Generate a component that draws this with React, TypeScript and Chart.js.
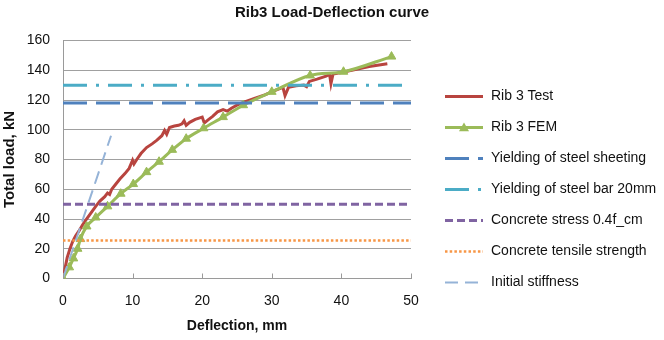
import React, { useEffect, useRef } from "react";
import { Chart, registerables } from "chart.js";

Chart.register(...registerables);

const chartTitle = "Rib3 Load-Deflection curve";
const xAxisTitle = "Deflection, mm";
const yAxisTitle = "Total load, kN";

const seriesNames = [
  "Rib 3 Test",
  "Rib 3 FEM",
  "Yielding of steel sheeting",
  "Yielding of steel bar 20mm",
  "Concrete stress 0.4f_cm",
  "Concrete tensile strength",
  "Initial stiffness",
];

const testDeflection = [
  0, 0.3, 0.6, 1.0, 1.4, 1.8, 2.3, 2.8, 3.3, 4.0,
  4.7, 5.3, 6.0, 6.4, 6.7, 7.0, 7.6, 8.2, 8.9, 9.5,
  10.0, 10.2, 10.6, 11.2, 12.0, 12.8, 13.5, 14.2, 14.6, 14.9,
  15.3, 16.0, 16.6, 17.1, 17.4, 17.7, 18.2, 19.0, 20.0, 20.3,
  20.8, 21.5, 22.2, 23.0, 23.6, 24.2, 25.0, 26.0, 27.5, 29.0,
  30.5, 31.6, 31.9, 32.4, 33.5, 34.6, 35.0, 35.4, 36.5, 37.8,
  38.3, 38.5, 38.8, 40.0, 42.0, 44.0, 46.6,
];
const testLoad = [
  0, 7, 14, 20, 25, 28.5, 32, 36, 39.5, 44,
  48.5, 52, 55, 57.5, 56.5, 60, 63.5, 67, 70.5, 74,
  79.5, 77, 80, 84, 88, 90.5, 93, 96, 99.5, 97,
  101.5, 102.5, 103, 104, 106, 103, 105, 107, 108.5, 104.5,
  106.5, 109, 112, 113.5, 112.5, 114.5, 116.5, 118.5, 121, 123.5,
  126.5, 128.5, 123, 128.5, 129.5, 130, 129, 132.5, 134, 136,
  137.3, 131, 137.5, 138.5, 140.5, 142.5, 144.3,
];

const femDeflection = [
  0, 0.9, 1.5, 2.1, 2.5, 3.4, 4.7, 6.4, 8.3, 10.1, 12.0,
  13.8, 15.7, 17.7, 20.2, 23.0, 25.9, 30.0, 35.5, 40.3, 47.2,
];
const femLoad = [
  0, 7.5, 13.5, 20, 26.5, 35, 41, 48.5, 57, 63.5, 71.5,
  78.5, 86.5, 94, 101, 108.5, 116.5, 125.5, 136.5, 139, 149.2,
];

const levelDeflection = [0, 50];
const yieldingSheetingLoad = 118;
const yieldingBarLoad = 130;
const concreteStressLoad = 50;
const concreteTensileLoad = 25.5;

const stiffnessDeflection = [0, 6.9];
const stiffnessLoad = [0, 96];

const xMin = 0;
const xMax = 50;
const xStep = 10;
const yMin = 0;
const yMax = 160;
const yStep = 20;

const FONT = "'Liberation Sans', Arial, sans-serif";

const toPoints = (xs: number[], ys: number[]) => xs.map((x, i) => ({ x, y: ys[i] }));
const level = (v: number) => levelDeflection.map((x) => ({ x, y: v }));

const styles = [
  { color: "#B8443F", width: 3, dash: [] as number[] },
  { color: "#9BBB59", width: 3, dash: [] as number[], marker: true },
  { color: "#4F81BD", width: 3, dash: [24, 9] },
  { color: "#4BACC6", width: 3, dash: [24, 9, 3, 9] },
  { color: "#8064A2", width: 3, dash: [8, 4] },
  { color: "#F79646", width: 2.5, dash: [2.5, 2.2] },
  { color: "#95B3D7", width: 2, dash: [13, 7] },
];

const legendPlugin = {
  id: "customLegend",
  afterDraw(chart: any) {
    const { ctx, chartArea } = chart;
    const x0 = chartArea.right + 34;
    const x1 = x0 + 38;
    const tx = x1 + 8;
    const y0 = chartArea.top + 56;
    const step = 31;
    ctx.save();
    chart.data.datasets.forEach((ds: any, i: number) => {
      const st = styles[i];
      const y = y0 + i * step;
      ctx.beginPath();
      ctx.setLineDash(st.dash);
      ctx.lineWidth = st.width;
      ctx.strokeStyle = st.color;
      ctx.lineCap = "butt";
      ctx.moveTo(x0, y);
      ctx.lineTo(x1, y);
      ctx.stroke();
      ctx.setLineDash([]);
      if (st.marker) {
        const cx = (x0 + x1) / 2;
        const r = 5;
        ctx.beginPath();
        ctx.moveTo(cx, y - r);
        ctx.lineTo(cx + r, y + r * 0.75);
        ctx.lineTo(cx - r, y + r * 0.75);
        ctx.closePath();
        ctx.fillStyle = st.color;
        ctx.fill();
      }
      ctx.fillStyle = "#111";
      ctx.font = `14px ${FONT}`;
      ctx.textAlign = "left";
      ctx.textBaseline = "middle";
      ctx.fillText(ds.label, tx, y);
    });
    // inward x tick marks
    const xs = chart.scales.x;
    ctx.strokeStyle = "#9a9a9a";
    ctx.lineWidth = 1;
    xs.ticks.forEach((_t: any, i: number) => {
      const px = Math.round(xs.getPixelForTick(i)) + 0.5;
      ctx.beginPath();
      ctx.moveTo(px, chartArea.bottom);
      ctx.lineTo(px, chartArea.bottom - 5);
      ctx.stroke();
    });
    ctx.restore();
  },
};

export default function App() {
  const ref = useRef<HTMLCanvasElement>(null);
  useEffect(() => {
    document.body.style.margin = "0";
    const canvas = ref.current!;
    const seriesData = [
      toPoints(testDeflection, testLoad),
      toPoints(femDeflection, femLoad),
      level(yieldingSheetingLoad),
      level(yieldingBarLoad),
      level(concreteStressLoad),
      level(concreteTensileLoad),
      toPoints(stiffnessDeflection, stiffnessLoad),
    ];
    const datasets = seriesData.map((data, i) => {
      const st = styles[i];
      return {
        label: seriesNames[i],
        data,
        borderColor: st.color,
        backgroundColor: st.color,
        borderWidth: st.width,
        borderDash: st.dash,
        pointRadius: st.marker ? 5 : 0,
        pointStyle: "triangle",
        pointBorderWidth: 1,
        pointHoverRadius: 0,
        tension: 0,
        cubicInterpolationMode: st.marker ? "monotone" : "default",
        fill: false,
        order: seriesNames.length - i,
      };
    });
    const chart = new Chart(canvas, {
      type: "line",
      data: { datasets } as any,
      plugins: [legendPlugin],
      options: {
        animation: false,
        responsive: true,
        maintainAspectRatio: false,
        layout: { padding: { left: 0, right: 0, top: 0, bottom: 0 } },
        font: { family: FONT },
        plugins: {
          legend: { display: false },
          tooltip: { enabled: false },
          title: {
            display: true,
            text: chartTitle,
            color: "#111",
            font: { family: FONT, size: 15, weight: "bold" },
            padding: { top: 4, bottom: 18.5 },
          },
        },
        scales: {
          x: {
            type: "linear",
            min: xMin,
            max: xMax,
            afterFit: (s: any) => {
              s.height = 61.5;
            },
            ticks: {
              stepSize: xStep,
              padding: 14,
              color: "#111",
              font: { family: FONT, size: 14 },
            },
            grid: { display: false, drawTicks: false },
            border: { display: true, color: "#9a9a9a", width: 1 },
            title: {
              display: true,
              text: xAxisTitle,
              color: "#111",
              font: { family: FONT, size: 14, weight: "bold" },
              padding: { top: 0, bottom: 5.6 },
            },
          },
          y: {
            type: "linear",
            min: yMin,
            max: yMax,
            afterFit: (s: any) => {
              s.width = 63;
            },
            ticks: {
              stepSize: yStep,
              padding: 13,
              color: "#111",
              font: { family: FONT, size: 14 },
            },
            grid: { display: true, drawTicks: false, color: "#a0a0a0", lineWidth: 1 },
            border: { display: true, color: "#9a9a9a", width: 1 },
            title: {
              display: true,
              text: yAxisTitle,
              color: "#111",
              font: { family: FONT, size: 15, weight: "bold" },
              padding: { top: 1, bottom: 0 },
            },
          },
          legendSpace: {
            type: "linear",
            position: "right",
            display: true,
            afterFit: (s: any) => {
              s.width = 253;
            },
            ticks: { display: false },
            grid: { display: false, drawTicks: false },
            border: { display: false },
            title: { display: false },
          },
        },
      } as any,
    });
    return () => chart.destroy();
  }, []);
  return (
    <div style={{ width: 664, height: 340, position: "relative" }}>
      <canvas ref={ref} />
    </div>
  );
}
